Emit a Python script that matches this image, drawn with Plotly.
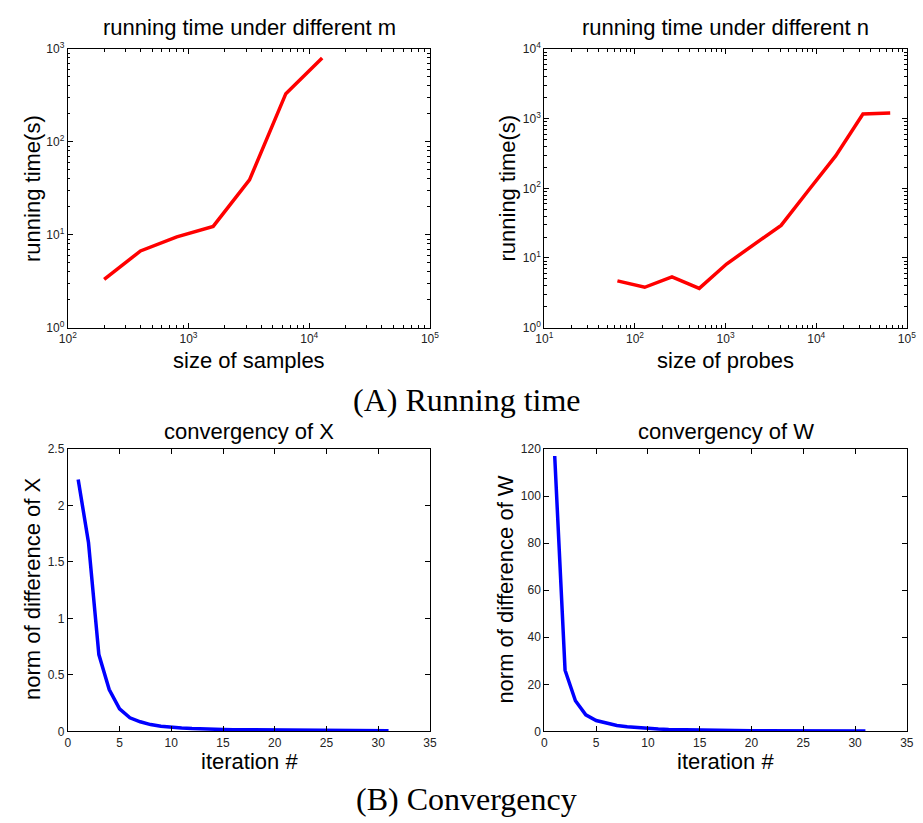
import plotly.graph_objects as go

# ---- data ----
m_sizes = [200, 400, 800, 1600, 3200, 6400, 12800]
m_times = [3.3, 6.7, 9.5, 12.3, 39, 330, 800]

n_sizes = [64, 128, 256, 512, 1024, 2048, 4096, 8192, 16384, 32768, 65536]
n_times = [4.7, 3.8, 5.35, 3.66, 8.2, 15.4, 29.4, 93, 292, 1165, 1200]

iters = list(range(1, 32))
conv_X = [2.23, 1.67, 0.68, 0.37, 0.20, 0.12, 0.085, 0.06, 0.045, 0.035, 0.03,
          0.025, 0.02, 0.018, 0.016, 0.015, 0.014, 0.013, 0.012, 0.011, 0.010,
          0.009, 0.009, 0.008, 0.008, 0.007, 0.007, 0.006, 0.006, 0.005, 0.005]
conv_W = [117, 26, 13, 7, 4.6, 3.4, 2.5, 2.0, 1.6, 1.3, 1.0, 0.8, 0.7, 0.6, 0.5,
          0.45, 0.4, 0.38, 0.35, 0.32, 0.3, 0.28, 0.26, 0.25, 0.24, 0.22, 0.21,
          0.2, 0.2, 0.19, 0.18]

# log tick labels
exps_m_x = [2, 3, 4, 5]
exps_m_y = [0, 1, 2, 3]
exps_n_x = [1, 2, 3, 4, 5]
exps_n_y = [0, 1, 2, 3, 4]

W, H = 923, 823

def px_x(p):
    return p / W

def px_y(p):
    return 1 - p / H

def pow_ticks(exps):
    return dict(tickvals=[10 ** e for e in exps],
                ticktext=["10<sup>%d</sup>" % e for e in exps])

fig = go.Figure()

fig.add_trace(go.Scatter(x=m_sizes, y=m_times, mode="lines",
                         line=dict(color="#ff0000", width=3.5),
                         xaxis="x", yaxis="y", showlegend=False))
fig.add_trace(go.Scatter(x=n_sizes, y=n_times, mode="lines",
                         line=dict(color="#ff0000", width=3.5),
                         xaxis="x2", yaxis="y2", showlegend=False))
fig.add_trace(go.Scatter(x=iters, y=conv_X, mode="lines",
                         line=dict(color="#0000ff", width=3.5),
                         xaxis="x3", yaxis="y3", showlegend=False))
fig.add_trace(go.Scatter(x=iters, y=conv_W, mode="lines",
                         line=dict(color="#0000ff", width=3.5),
                         xaxis="x4", yaxis="y4", showlegend=False))

tickfont = dict(family="Liberation Sans, Arial, sans-serif", size=12, color="#222")
common = dict(showline=True, linecolor="black", linewidth=1.2, mirror="allticks",
              ticks="inside", ticklen=5, tickcolor="black", showgrid=False,
              zeroline=False, tickfont=tickfont)

L_left, L_right = px_x(60), px_x(429.3)
R_left, R_right = px_x(546), px_x(915.7)
T_top, T_bot = px_y(40.7), px_y(325)
B_top, B_bot = px_y(448.7), px_y(736.7)

minor_log = dict(tickmode="linear", dtick="D1", ticks="inside", ticklen=2.5,
                 tickcolor="black", showgrid=False)

fig.update_layout(
    width=W, height=H,
    margin=dict(l=0, r=0, t=0, b=0),
    paper_bgcolor="white", plot_bgcolor="white",
    xaxis=dict(domain=[L_left, L_right], anchor="y", type="log",
               range=[2, 5], minor=minor_log, **pow_ticks(exps_m_x), **common),
    yaxis=dict(domain=[T_bot, T_top], anchor="x", type="log",
               range=[0, 3], minor=minor_log, **pow_ticks(exps_m_y), **common),
    xaxis2=dict(domain=[R_left, R_right], anchor="y2", type="log",
                range=[1, 5], minor=minor_log, **pow_ticks(exps_n_x), **common),
    yaxis2=dict(domain=[T_bot, T_top], anchor="x2", type="log",
                range=[0, 4], minor=minor_log, **pow_ticks(exps_n_y), **common),
    xaxis3=dict(domain=[L_left, L_right], anchor="y3", range=[0, 35],
                dtick=5, **common),
    yaxis3=dict(domain=[B_bot, B_top], anchor="x3", range=[0, 2.5],
                dtick=0.5, **common),
    xaxis4=dict(domain=[R_left, R_right], anchor="y4", range=[0, 35],
                dtick=5, **common),
    yaxis4=dict(domain=[B_bot, B_top], anchor="x4", range=[0, 120],
                dtick=20, **common),
)

sans = "Liberation Sans, Arial, sans-serif"
serif = "Liberation Serif, DejaVu Serif, serif"

def text(x, y, s, size, family=sans, angle=0):
    fig.add_annotation(x=x, y=y, xref="paper", yref="paper", text=s,
                       showarrow=False, font=dict(family=family, size=size, color="black"),
                       textangle=angle, xanchor="center", yanchor="middle")

# titles
text(px_x(245), px_y(19), "running time under different m", 22)
text(px_x(731), px_y(19), "running time under different n", 22)
text(px_x(245), px_y(431), "convergency of X", 22)
text(px_x(731), px_y(431), "convergency of W", 22)

# x axis titles
text(px_x(245), px_y(358), "size of samples", 22)
text(px_x(731), px_y(358), "size of probes", 22)
text(px_x(245), px_y(767), "iteration #", 22)
text(px_x(731), px_y(767), "iteration #", 22)

# y axis titles
text(px_x(24), px_y(183), "running time(s)", 22, angle=-90)
text(px_x(508), px_y(183), "running time(s)", 22, angle=-90)
text(px_x(24), px_y(592), "norm of difference of X", 22, angle=-90)
text(px_x(506), px_y(592), "norm of difference of W", 22, angle=-90)

# captions
text(px_x(467), px_y(399), "(A) Running time", 32, family=serif)
text(px_x(467), px_y(806), "(B) Convergency", 32, family=serif)

fig.write_html("out.html")
